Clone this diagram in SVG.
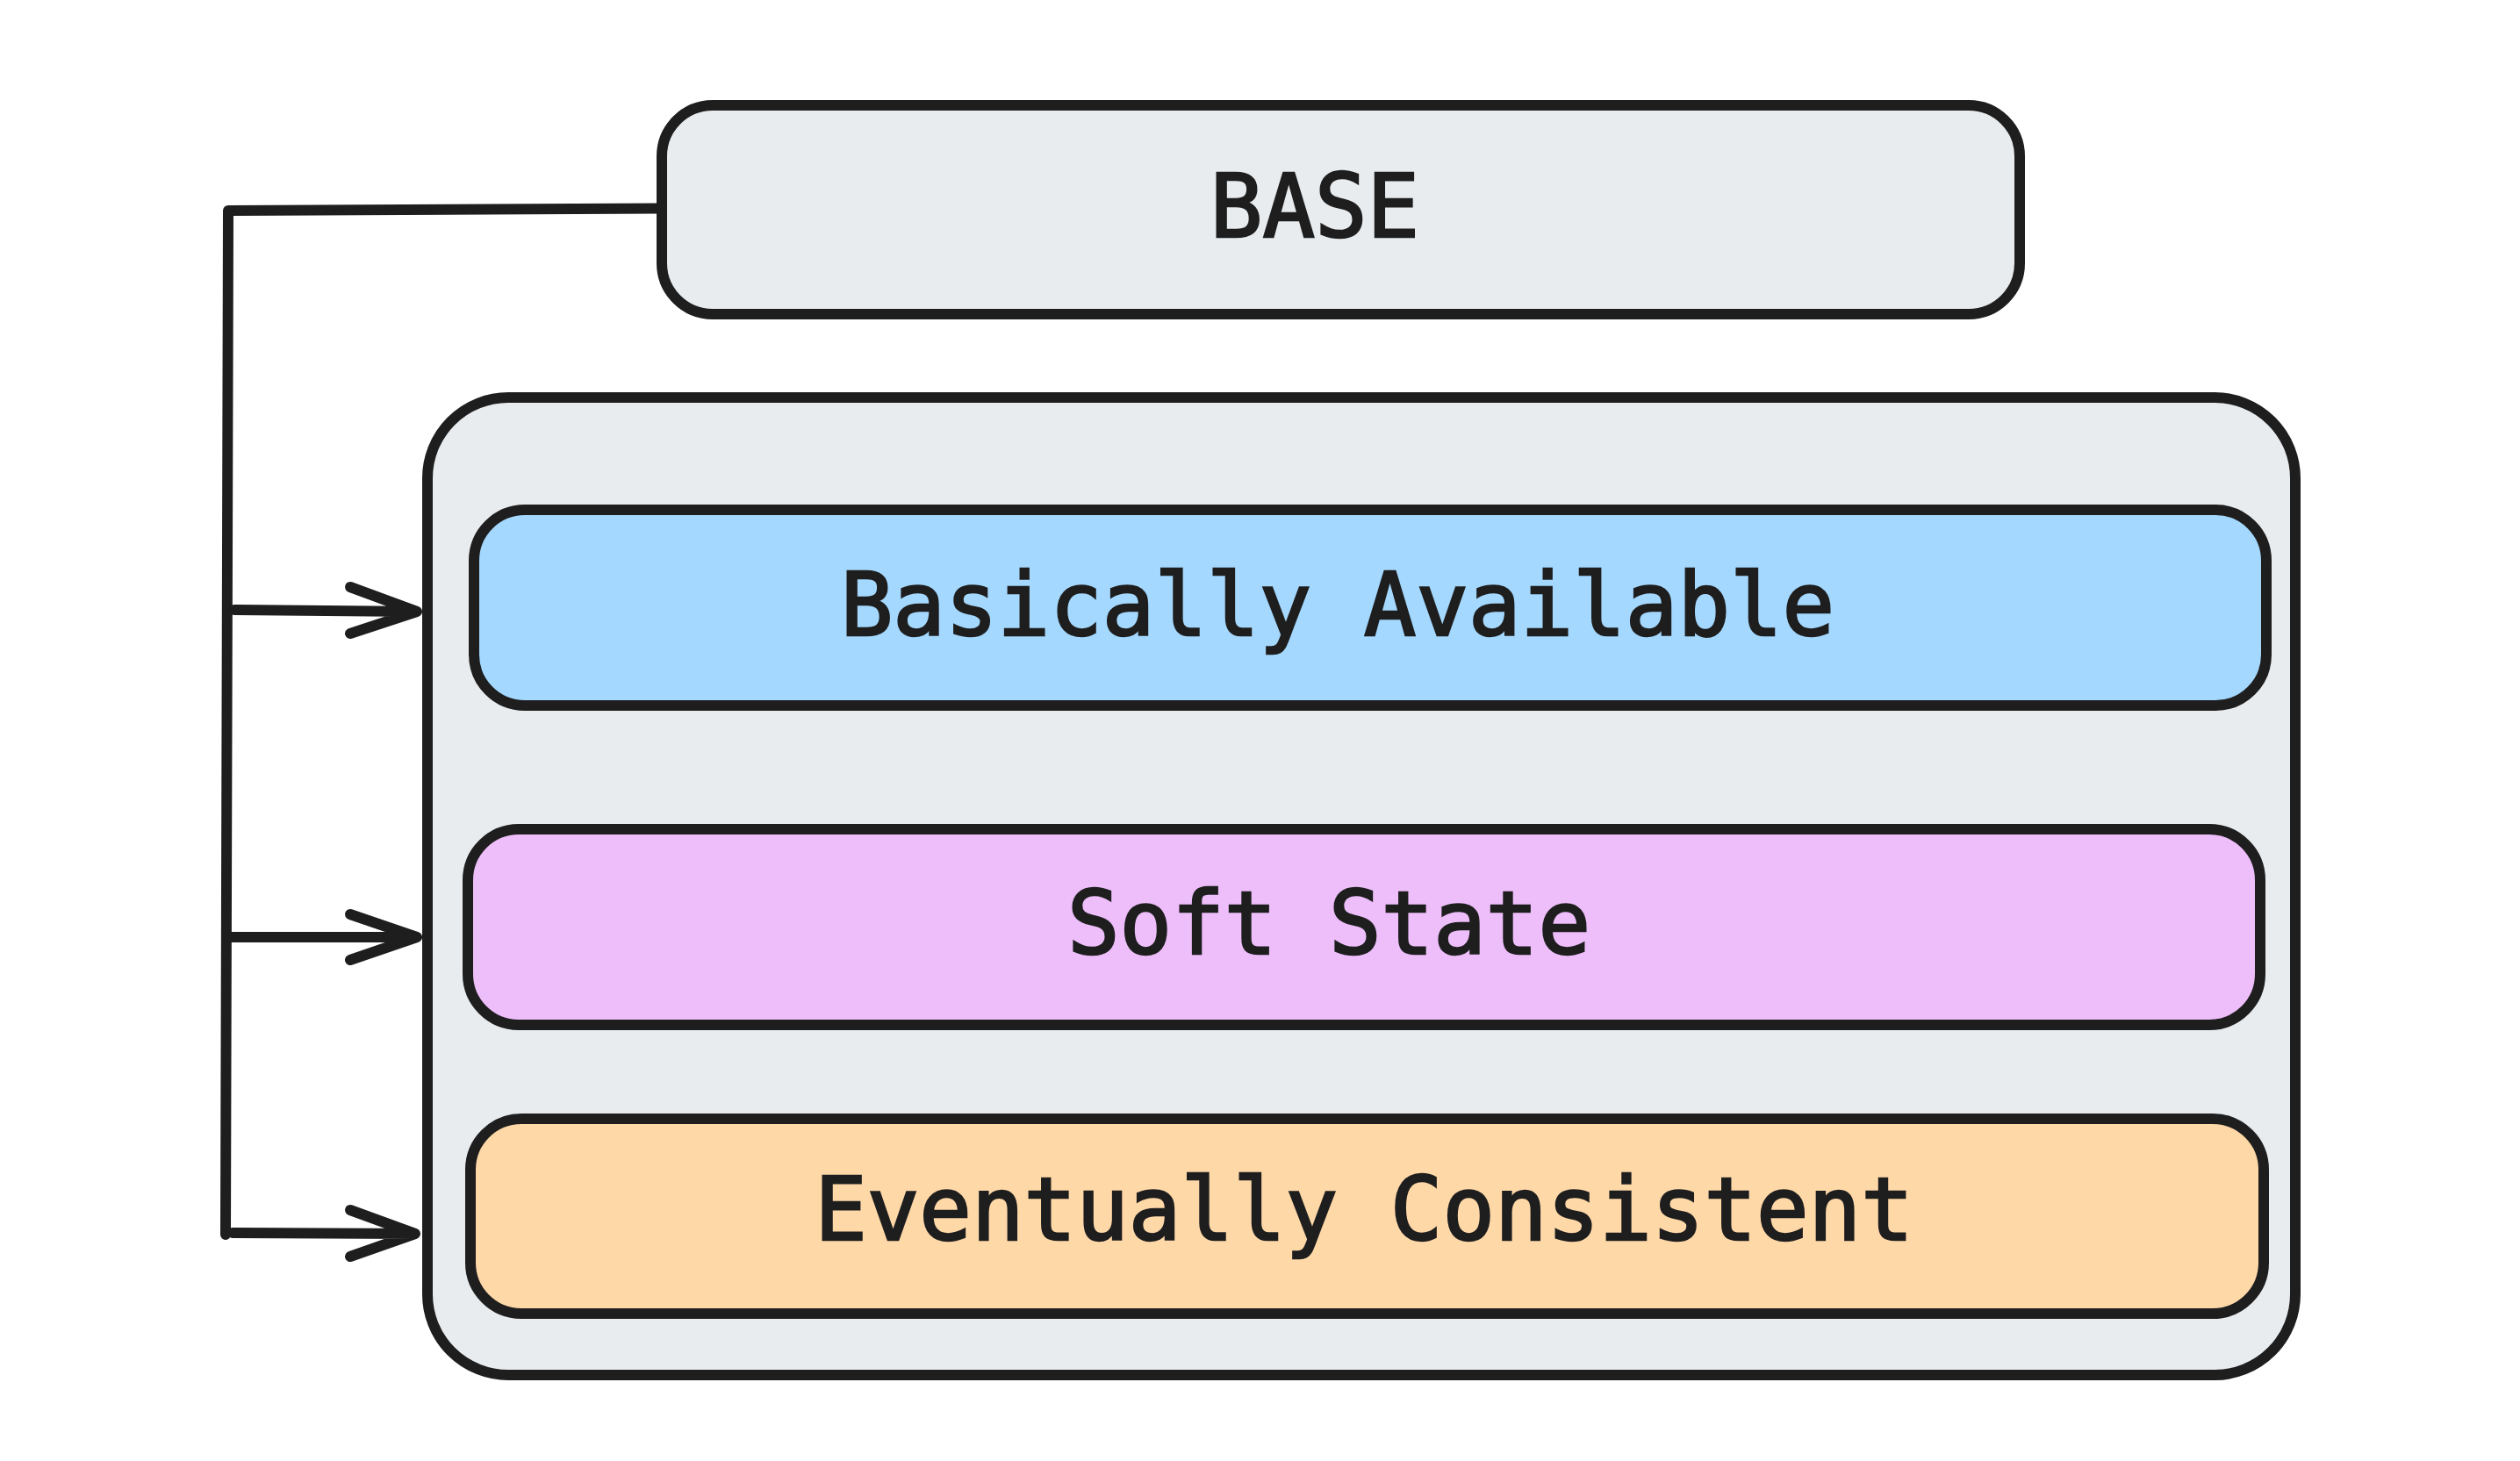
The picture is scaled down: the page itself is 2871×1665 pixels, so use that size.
<svg xmlns="http://www.w3.org/2000/svg" width="2871" height="1665" viewBox="0 0 2871 1665">
<style>
.box{stroke:#1e1e1e;stroke-width:12;stroke-linejoin:round}
.lbl{font-family:"DejaVu Sans Mono","Liberation Mono",monospace;font-size:99px;fill:#1e1e1e;stroke:#1e1e1e;stroke-width:2.5;text-anchor:middle}
.con{fill:none;stroke:#1e1e1e;stroke-width:12;stroke-linecap:round;stroke-linejoin:round}
</style>
<rect x="0" y="0" width="2871" height="1665" fill="#ffffff"/>
<g id="base">
<rect class="box" x="754" y="120" width="1547" height="238" rx="58" fill="#e9ecef"/>
<text class="lbl" x="1498" y="270">BASE</text>
</g>
<g id="container">
<rect class="box" x="487" y="453" width="2128" height="1114" rx="92" fill="#e9ecef"/>
</g>
<g id="basically-available">
<rect class="box" x="540" y="581" width="2042" height="223" rx="58" fill="#a5d8ff"/>
<text class="lbl" x="1524" y="724">Basically Available</text>
</g>
<g id="soft-state">
<rect class="box" x="533" y="945" width="2042" height="223" rx="58" fill="#eebefa"/>
<text class="lbl" x="1514" y="1087">Soft State</text>
</g>
<g id="eventually-consistent">
<rect class="box" x="536" y="1275" width="2043" height="222" rx="58" fill="#ffd8a8"/>
<text class="lbl" x="1554" y="1413">Eventually Consistent</text>
</g>
<g id="connectors">
<path class="con" d="M753 237.5 L260 240 L257 1407"/>
<path class="con" d="M267 695 L475 697 M399 669 L475 697 L399 722"/>
<path class="con" d="M260 1068 L475 1068 M399 1042 L475 1068 L399 1094"/>
<path class="con" d="M265 1405 L473 1406 M399 1379 L473 1406 L399 1432"/>
</g>
</svg>
